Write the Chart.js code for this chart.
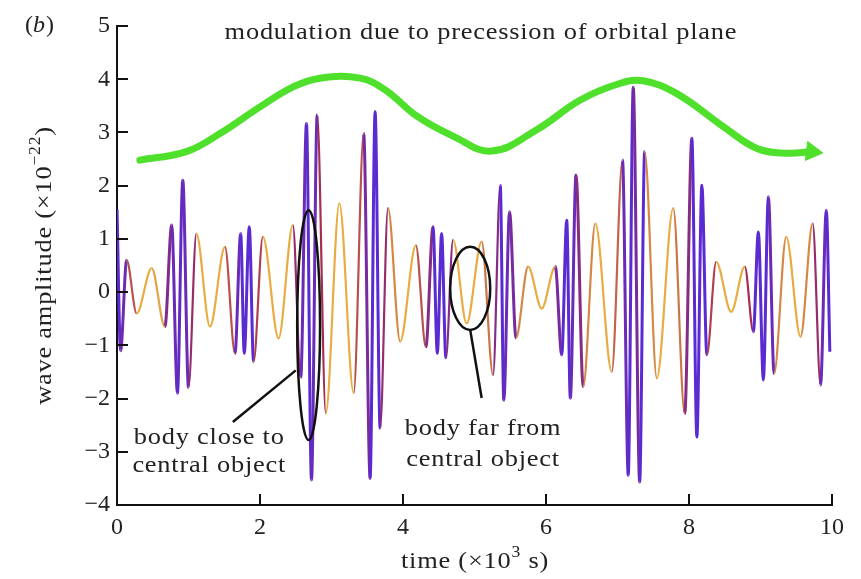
<!DOCTYPE html>
<html>
<head>
<meta charset="utf-8">
<script src="https://cdn.jsdelivr.net/npm/chart.js@4.4.1/dist/chart.umd.min.js"></script>
<style>
  html, body { margin: 0; padding: 0; background: #fff; }
</style>
</head>
<body>
<canvas id="waveChart" width="861" height="579"></canvas>
<script>
// turning points of the wave
// time in units of 10^3 s, amplitude in units of 10^-22
var waveTime = [0.00, 0.05, 0.135, 0.275, 0.485, 0.67, 0.765, 0.845, 0.92, 1.00,
  1.11, 1.30, 1.51, 1.65, 1.73, 1.78, 1.85, 1.91, 2.04, 2.26,
  2.46, 2.57, 2.65, 2.72, 2.80, 2.92, 3.11, 3.31, 3.45, 3.54,
  3.61, 3.68, 3.79, 3.96, 4.18, 4.32, 4.42, 4.48, 4.54, 4.60,
  4.70, 4.89, 5.10, 5.26, 5.36, 5.41, 5.49, 5.58, 5.75, 5.94,
  6.13, 6.22, 6.29, 6.34, 6.42, 6.52, 6.69, 6.92, 7.07, 7.15,
  7.22, 7.31, 7.38, 7.55, 7.78, 7.94, 8.04, 8.11, 8.18, 8.25,
  8.38, 8.59, 8.78, 8.90, 8.97, 9.04, 9.11, 9.19, 9.36, 9.56,
  9.73, 9.84, 9.92, 9.97];
var waveAmp = [1.55, -1.10, 0.60, -0.40, 0.45, -0.65, 1.26, -1.90, 2.10, -1.79,
  1.10, -0.65, 0.85, -1.15, 1.10, -1.15, 1.23, -1.31, 1.04, -0.87,
  1.26, -1.60, 3.17, -3.53, 3.33, -2.28, 1.67, -1.90, 2.98, -3.50,
  3.39, -2.56, 1.58, -0.93, 0.88, -1.03, 1.23, -1.15, 1.10, -1.24,
  0.98, -0.59, 0.95, -1.56, 2.01, -2.03, 1.51, -0.86, 0.48, -0.31,
  0.48, -1.18, 1.35, -1.99, 2.20, -1.78, 1.29, -1.50, 2.48, -3.44,
  3.85, -3.57, 2.64, -1.62, 1.58, -2.28, 2.89, -2.72, 2.01, -1.18,
  0.57, -0.37, 0.48, -0.75, 1.13, -1.65, 1.79, -1.53, 1.04, -0.84,
  1.29, -1.75, 1.54, -1.12];

// green modulation envelope (precession of orbital plane)
var precTime = [0.32, 0.97, 1.44, 2.00, 2.47, 2.84, 3.40, 3.75, 4.20, 4.70,
  5.24, 5.87, 6.48, 7.03, 7.36, 7.83, 8.48, 8.95, 9.37, 9.72];
var precAmp = [2.48, 2.64, 2.98, 3.48, 3.86, 4.02, 4.02, 3.80, 3.30, 2.93,
  2.65, 3.05, 3.61, 3.92, 3.97, 3.73, 3.11, 2.70, 2.61, 2.64];

var xTicks = [0, 2, 4, 6, 8, 10];
var yTicks = [-4, -3, -2, -1, 0, 1, 2, 3, 4, 5];

var SERIF = "'Liberation Serif', 'Times New Roman', serif";
var TXT = 24;
var WIDE = 1.1; // the figure's lettering is a little wider than Liberation Serif

// colour of a wave segment from how quickly it swings (short half period = purple)
function segColor(dt) {
  var stops = [[0.07, [90, 42, 210]], [0.12, [165, 45, 80]], [0.19, [232, 172, 66]]];
  if (dt <= stops[0][0]) return "rgb(" + stops[0][1].join(",") + ")";
  for (var i = 1; i < stops.length; i++) {
    if (dt <= stops[i][0]) {
      var f = (dt - stops[i - 1][0]) / (stops[i][0] - stops[i - 1][0]);
      var c = stops[i - 1][1].map((v, k) => Math.round(v + f * (stops[i][1][k] - v)));
      return "rgb(" + c.join(",") + ")";
    }
  }
  return "rgb(" + stops[stops.length - 1][1].join(",") + ")";
}

function wideText(ctx, s, x, y) {
  ctx.save();
  ctx.translate(x, y);
  ctx.scale(WIDE, 1);
  ctx.fillText(s, 0, 0);
  ctx.restore();
}

// text with a superscript part, centred on (0, 0) of the current transform
function drawRich(ctx, parts, size) {
  var total = 0;
  parts.forEach(p => {
    ctx.font = (p.sup ? Math.round(size * 0.65) : size) + "px " + SERIF;
    p.w = ctx.measureText(p.t).width;
    total += p.w;
  });
  ctx.scale(WIDE, 1);
  var x = -total / 2;
  ctx.textAlign = "left";
  ctx.textBaseline = "middle";
  parts.forEach(p => {
    ctx.font = (p.sup ? Math.round(size * 0.65) : size) + "px " + SERIF;
    ctx.fillText(p.t, x, p.sup ? -size * 0.38 : 0);
    x += p.w;
  });
}

var decor = {
  id: "decor",
  afterDraw: function (chart) {
    var ctx = chart.ctx;
    var xs = chart.scales.x, ys = chart.scales.y;
    var area = chart.chartArea;
    ctx.save();

    // inward tick marks
    ctx.strokeStyle = "#111";
    ctx.lineWidth = 2;
    ctx.beginPath();
    yTicks.forEach(v => {
      var py = Math.round(ys.getPixelForValue(v));
      ctx.moveTo(area.left, py);
      ctx.lineTo(area.left + 11, py);
    });
    xTicks.forEach(v => {
      var px = Math.round(xs.getPixelForValue(v));
      ctx.moveTo(px, area.bottom);
      ctx.lineTo(px, area.bottom - 11);
    });
    ctx.stroke();

    // ellipses and leader lines
    ctx.strokeStyle = "#111";
    ctx.lineWidth = 2.5;
    function ell(t, a, rt, ra) {
      var cx = xs.getPixelForValue(t), cy = ys.getPixelForValue(a);
      var rx = Math.abs(xs.getPixelForValue(t + rt) - cx);
      var ry = Math.abs(ys.getPixelForValue(a + ra) - cy);
      ctx.beginPath();
      ctx.ellipse(cx, cy, rx, ry, 0, 0, Math.PI * 2);
      ctx.stroke();
    }
    function seg(t0, a0, t1, a1) {
      ctx.beginPath();
      ctx.moveTo(xs.getPixelForValue(t0), ys.getPixelForValue(a0));
      ctx.lineTo(xs.getPixelForValue(t1), ys.getPixelForValue(a1));
      ctx.stroke();
    }
    ell(2.68, -0.62, 0.16, 2.16);
    seg(2.50, -1.47, 1.62, -2.44);
    ell(4.94, 0.07, 0.28, 0.78);
    seg(4.94, -0.71, 5.10, -1.99);

    // annotation texts
    ctx.fillStyle = "#222";
    ctx.letterSpacing = "0.7px";
    ctx.textAlign = "center";
    ctx.textBaseline = "middle";
    ctx.font = TXT + "px " + SERIF;
    wideText(ctx, "modulation due to precession of orbital plane", xs.getPixelForValue(5.09), ys.getPixelForValue(4.87));
    wideText(ctx, "body close to", xs.getPixelForValue(1.29), ys.getPixelForValue(-2.73));
    wideText(ctx, "central object", xs.getPixelForValue(1.29), ys.getPixelForValue(-3.27));
    wideText(ctx, "body far from", xs.getPixelForValue(5.12), ys.getPixelForValue(-2.56));
    wideText(ctx, "central object", xs.getPixelForValue(5.12), ys.getPixelForValue(-3.14));

    // axis titles
    ctx.save();
    ctx.translate(475, 562);
    drawRich(ctx, [{ t: "time (\u00d710" }, { t: "3", sup: true }, { t: " s)" }], TXT);
    ctx.restore();
    ctx.save();
    ctx.translate(45, (area.top + area.bottom) / 2);
    ctx.rotate(-Math.PI / 2);
    drawRich(ctx, [{ t: "wave amplitude (\u00d710" }, { t: "\u221222", sup: true }, { t: ")" }], TXT);
    ctx.restore();

    // panel label
    ctx.letterSpacing = "0px";
    ctx.textAlign = "left";
    ctx.font = TXT + "px " + SERIF;
    ctx.fillText("(", 25, 26);
    var w = ctx.measureText("(").width;
    ctx.font = "italic " + TXT + "px " + SERIF;
    ctx.fillText("b", 25 + w, 26);
    var w2 = ctx.measureText("b").width;
    ctx.font = TXT + "px " + SERIF;
    ctx.fillText(")", 25 + w + w2 + 1, 26);

    ctx.restore();
  }
};

var waveData = waveTime.map((t, i) => ({ x: t, y: waveAmp[i] }));
var precData = precTime.map((t, i) => ({ x: t, y: precAmp[i] }));
var green = "#4fe02c";

var chart = new Chart(document.getElementById("waveChart").getContext("2d"), {
  type: "line",
  data: {
    datasets: [
      {
        label: "precession",
        data: precData,
        order: 0,
        borderColor: green,
        borderWidth: 7,
        borderCapStyle: "round",
        tension: 0.4,
        fill: false,
        pointStyle: "triangle",
        rotation: 97,
        pointRadius: ctx => (ctx.dataIndex === precData.length - 1 ? 11 : 0),
        pointBackgroundColor: green,
        pointBorderColor: green,
        pointBorderWidth: 1,
      },
      {
        label: "wave",
        data: waveData,
        order: 1,
        borderColor: "#e6a83e",
        borderWidth: 2.2,
        cubicInterpolationMode: "monotone",
        fill: false,
        pointRadius: 0,
        segment: {
          borderColor: ctx => segColor(ctx.p1.parsed.x - ctx.p0.parsed.x),
          borderWidth: ctx => (ctx.p1.parsed.x - ctx.p0.parsed.x < 0.1 ? 3 : 2.2),
        },
      },
    ],
  },
  options: {
    responsive: false,
    animation: false,
    devicePixelRatio: 1,
    layout: { padding: { top: 26, right: 29, left: 0, bottom: 0 } },
    plugins: { legend: { display: false }, tooltip: { enabled: false } },
    scales: {
      x: {
        type: "linear",
        min: 0,
        max: 10,
        afterBuildTicks: s => { s.ticks = xTicks.map(v => ({ value: v })); },
        afterFit: s => { s.height = 74; },
        grid: { display: false, drawTicks: false },
        border: { display: true, color: "#111", width: 2 },
        ticks: { padding: 8, color: "#222", font: { family: SERIF, size: 24 }, maxRotation: 0 },
      },
      y: {
        min: -4,
        max: 5,
        afterBuildTicks: s => { s.ticks = yTicks.map(v => ({ value: v })); },
        afterFit: s => { s.width = 117; },
        grid: { display: false, drawTicks: false },
        border: { display: true, color: "#111", width: 2 },
        ticks: {
          padding: 7,
          color: "#222",
          font: { family: SERIF, size: 24 },
          callback: v => String(v).replace("-", "\u2212"),
        },
      },
    },
  },
  plugins: [decor],
});
</script>
</body>
</html>
